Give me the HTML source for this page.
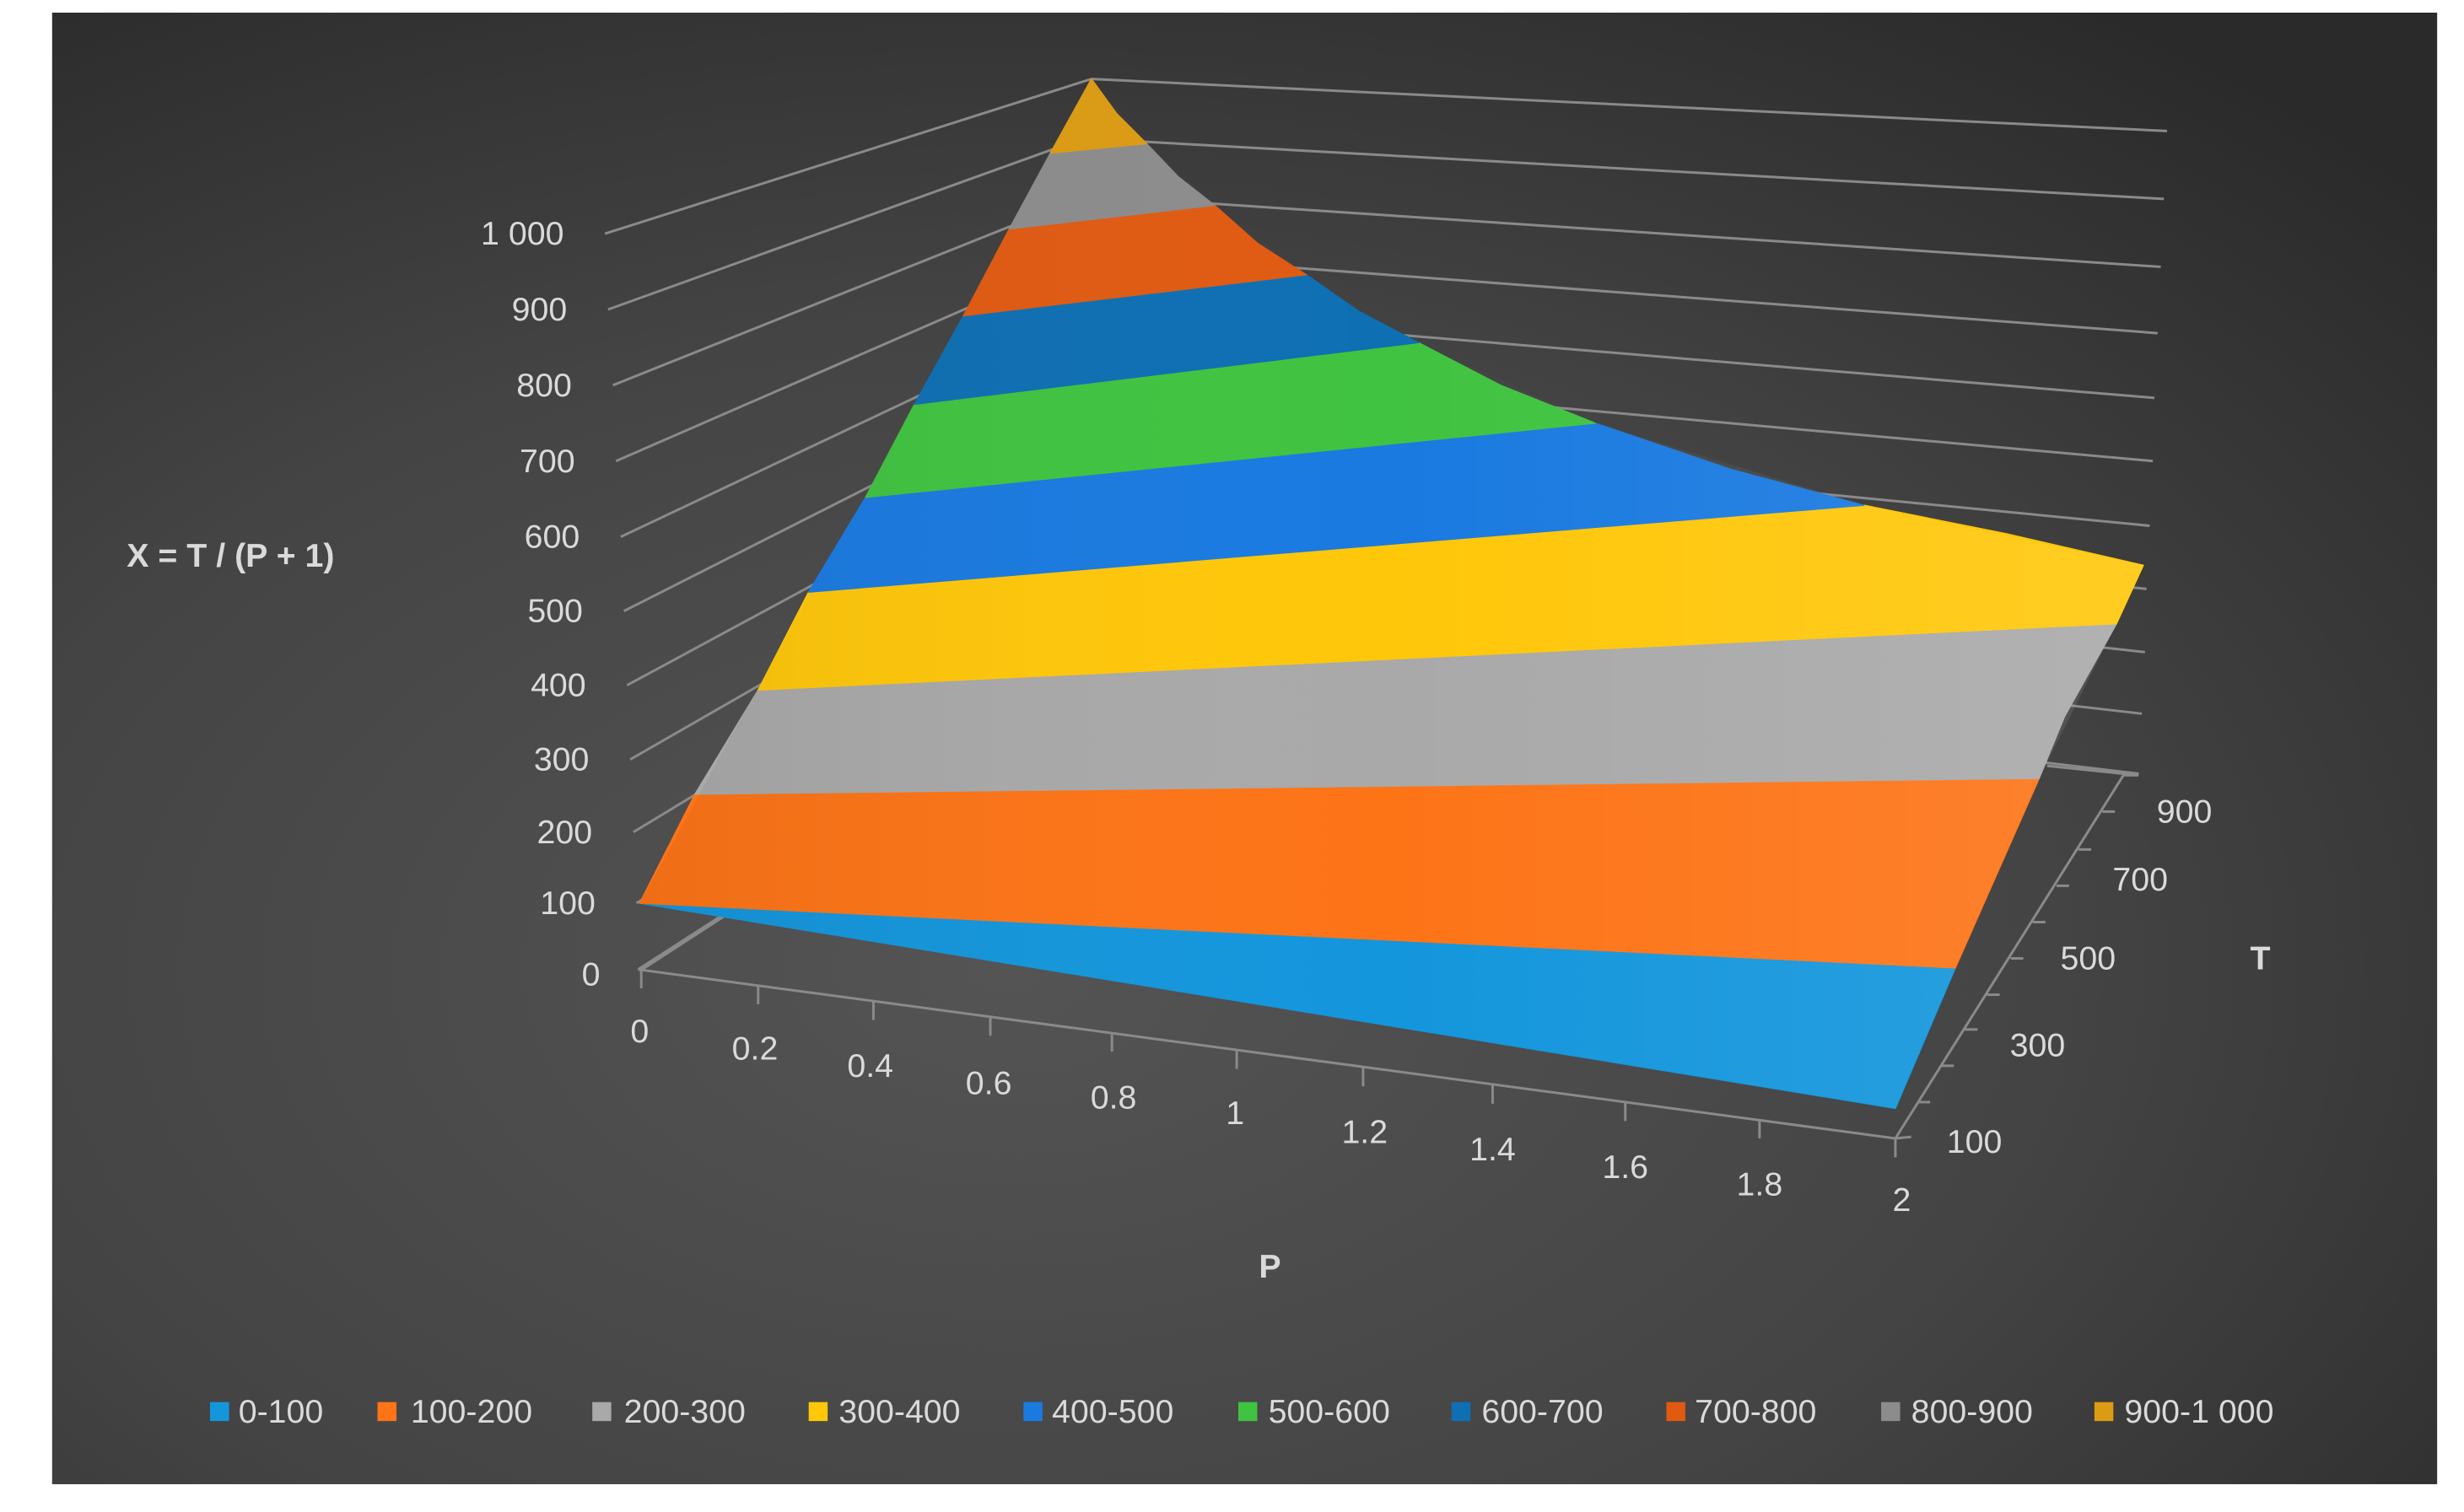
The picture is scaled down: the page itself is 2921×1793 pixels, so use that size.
<!DOCTYPE html>
<html><head><meta charset="utf-8"><style>
html,body{margin:0;padding:0;background:#fff;}
svg{display:block;}
text{font-family:"Liberation Sans",sans-serif;fill:#dadada;}
</style></head><body>
<svg width="2921" height="1793" viewBox="0 0 1560 957.6" preserveAspectRatio="none" xmlns="http://www.w3.org/2000/svg">
<defs>
<radialGradient id="bg" cx="0.4" cy="0.65" r="0.8">
<stop offset="0" stop-color="#545454"/>
<stop offset="0.55" stop-color="#444444"/>
<stop offset="1" stop-color="#2a2a2a"/>
</radialGradient>
<linearGradient id="sh" x1="0" y1="0" x2="1" y2="0">
<stop offset="0" stop-color="#000" stop-opacity="0.06"/>
<stop offset="0.5" stop-color="#fff" stop-opacity="0"/>
<stop offset="1" stop-color="#fff" stop-opacity="0.1"/>
</linearGradient>
</defs>
<rect x="0" y="0" width="1560" height="957.6" fill="#fff"/>
<rect x="33" y="8" width="1510" height="932" fill="url(#bg)"/>

<g stroke="#8a8a8a" stroke-width="1.6" fill="none">
<line x1="383" y1="148" x2="691" y2="50"/>
<line x1="385" y1="196" x2="693" y2="85"/>
<line x1="388" y1="244" x2="693" y2="122"/>
<line x1="390" y1="292" x2="693" y2="160"/>
<line x1="393" y1="340" x2="693" y2="198"/>
<line x1="395" y1="387" x2="693" y2="236"/>
<line x1="397" y1="434" x2="693" y2="274"/>
<line x1="399" y1="481" x2="693" y2="312"/>
<line x1="401" y1="527" x2="693" y2="350"/>
<line x1="403" y1="572" x2="693" y2="388"/>
<line x1="405" y1="615" x2="693" y2="428"/>
<line x1="691" y1="50" x2="1372" y2="83"/>
<line x1="693" y1="88" x2="1370" y2="126"/>
<line x1="693" y1="124" x2="1368" y2="169"/>
<line x1="693" y1="160" x2="1366" y2="211"/>
<line x1="693" y1="196" x2="1364" y2="252"/>
<line x1="693" y1="232" x2="1363" y2="292"/>
<line x1="693" y1="268" x2="1361" y2="333"/>
<line x1="693" y1="304" x2="1359" y2="373"/>
<line x1="693" y1="340" x2="1358" y2="413"/>
<line x1="693" y1="376" x2="1356" y2="452"/>
<line x1="693" y1="412" x2="1354" y2="490"/>
<line x1="404" y1="614" x2="1200" y2="721"/>
<line x1="404" y1="614" x2="693" y2="428"/>
<line x1="1200" y1="721" x2="1345" y2="490"/>
<line x1="1296" y1="485" x2="1354" y2="491"/>
<line x1="406" y1="614" x2="406" y2="626"/>
<line x1="480" y1="624" x2="480" y2="636"/>
<line x1="553" y1="634" x2="553" y2="646"/>
<line x1="627" y1="644" x2="627" y2="656"/>
<line x1="704" y1="654" x2="704" y2="666"/>
<line x1="783" y1="665" x2="783" y2="677"/>
<line x1="863" y1="676" x2="863" y2="688"/>
<line x1="945" y1="687" x2="945" y2="699"/>
<line x1="1029" y1="698" x2="1029" y2="710"/>
<line x1="1114" y1="709" x2="1114" y2="721"/>
<line x1="1200" y1="721" x2="1200" y2="733"/>
<line x1="1200" y1="721" x2="1210" y2="720"/>
<line x1="1214" y1="698" x2="1222" y2="698"/>
<line x1="1229" y1="675" x2="1237" y2="675"/>
<line x1="1244" y1="652" x2="1252" y2="652"/>
<line x1="1258" y1="630" x2="1266" y2="630"/>
<line x1="1273" y1="607" x2="1281" y2="607"/>
<line x1="1287" y1="584" x2="1295" y2="584"/>
<line x1="1302" y1="561" x2="1310" y2="561"/>
<line x1="1316" y1="538" x2="1324" y2="538"/>
<line x1="1331" y1="514" x2="1339" y2="514"/>
<line x1="1345" y1="491" x2="1353" y2="491"/>
</g>

<g stroke-width="0.8" stroke-linejoin="round">
<polygon fill="#1496dc" stroke="#1496dc" points="405,572 1238,613 1200,702"/>
<polygon fill="#fd7417" stroke="#fd7417" points="405,572 440,503 1291,493 1238,613"/>
<polygon fill="#a9a9a9" stroke="#a9a9a9" points="440,503 480,437 1340,395 1307,454 1291,493"/>
<polygon fill="#ffc70a" stroke="#ffc70a" points="480,437 512,375 1180,320 1270,338 1357,358 1340,395"/>
<polygon fill="#1a7ae0" stroke="#1a7ae0" points="512,375 548,315 1010,268 1095,297 1180,320"/>
<polygon fill="#40c340" stroke="#40c340" points="548,315 579,256 898,217 950,244 1010,268"/>
<polygon fill="#0e6fb3" stroke="#0e6fb3" points="579,256 610,200 827,174 860,197 898,217"/>
<polygon fill="#e05a12" stroke="#e05a12" points="610,200 639,145 769,130 796,154 827,174"/>
<polygon fill="#8c8c8c" stroke="#8c8c8c" points="639,145 665,97 726,91 746,112 769,130"/>
<polygon fill="#dc9b14" stroke="#dc9b14" points="665,97 691,50 707,72 726,91"/>
<polygon fill="url(#sh)" stroke="none" points="405,572 691,50 726,91 769,130 827,174 898,217 1010,268 1180,320 1357,358 1340,395 1291,493 1238,613 1200,702"/>
</g>

<g font-size="21" text-anchor="end">
<text x="357" y="155">1 000</text>
<text x="359" y="203">900</text>
<text x="362" y="251">800</text>
<text x="364" y="299">700</text>
<text x="367" y="347">600</text>
<text x="369" y="394">500</text>
<text x="371" y="441">400</text>
<text x="373" y="488">300</text>
<text x="375" y="534">200</text>
<text x="377" y="579">100</text>
<text x="380" y="624">0</text>
</g>
<g font-size="21" text-anchor="middle">
<text x="405" y="660">0</text>
<text x="478" y="671">0.2</text>
<text x="551" y="682">0.4</text>
<text x="626" y="693">0.6</text>
<text x="705" y="702">0.8</text>
<text x="782" y="712">1</text>
<text x="864" y="724">1.2</text>
<text x="945" y="735">1.4</text>
<text x="1029" y="746">1.6</text>
<text x="1114" y="757">1.8</text>
<text x="1204" y="767">2</text>
<text x="1383" y="521">900</text>
<text x="1355" y="564">700</text>
<text x="1322" y="614">500</text>
<text x="1290" y="669">300</text>
<text x="1250" y="730">100</text>
</g>
<g font-size="21" font-weight="bold" text-anchor="middle">
<text x="146" y="359">X = T / (P + 1)</text>
<text x="804" y="809">P</text>
<text x="1431" y="614">T</text>
</g>

<g font-size="21">
<rect x="133" y="888" width="12" height="12" fill="#1496dc"/><text x="151" y="901">0-100</text>
<rect x="239" y="888" width="12" height="12" fill="#fd7417"/><text x="260" y="901">100-200</text>
<rect x="375" y="888" width="12" height="12" fill="#a9a9a9"/><text x="395" y="901">200-300</text>
<rect x="512" y="888" width="12" height="12" fill="#ffc70a"/><text x="531" y="901">300-400</text>
<rect x="648" y="888" width="12" height="12" fill="#1a7ae0"/><text x="666" y="901">400-500</text>
<rect x="784" y="888" width="12" height="12" fill="#40c340"/><text x="803" y="901">500-600</text>
<rect x="919" y="888" width="12" height="12" fill="#0e6fb3"/><text x="938" y="901">600-700</text>
<rect x="1055" y="888" width="12" height="12" fill="#e05a12"/><text x="1073" y="901">700-800</text>
<rect x="1191" y="888" width="12" height="12" fill="#8c8c8c"/><text x="1210" y="901">800-900</text>
<rect x="1326" y="888" width="12" height="12" fill="#dc9b14"/><text x="1345" y="901">900-1 000</text>
</g>
</svg>
</body></html>
